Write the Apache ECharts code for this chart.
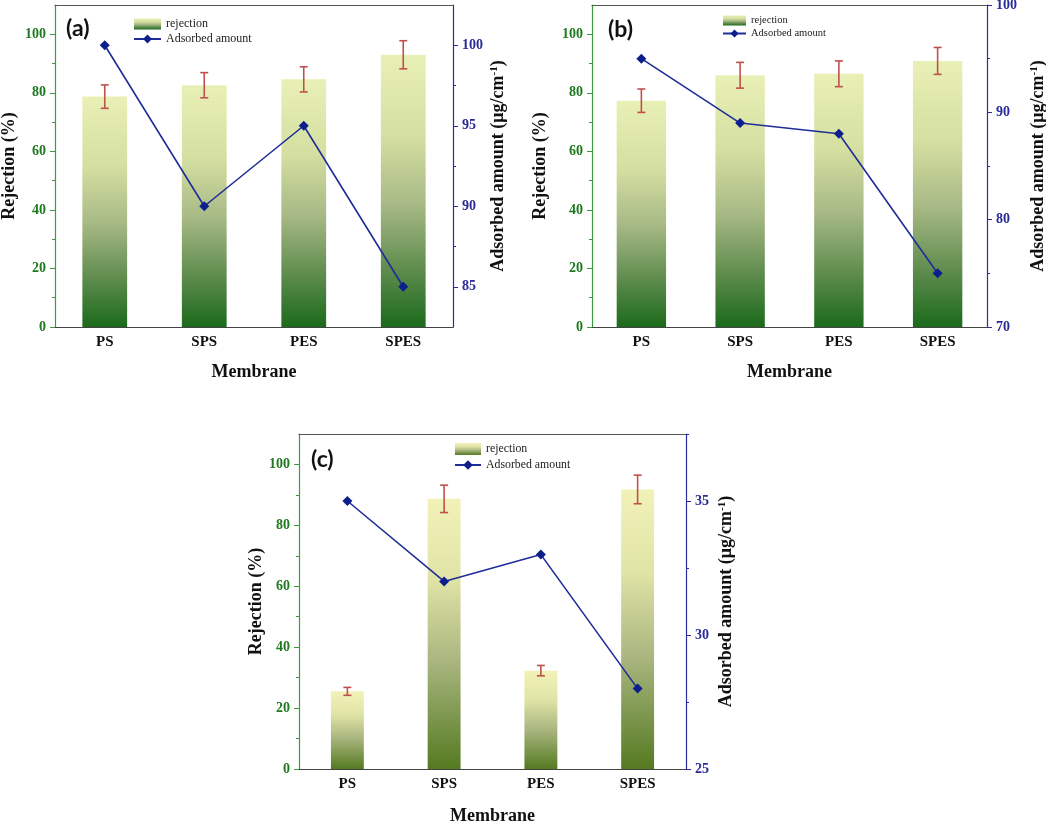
<!DOCTYPE html>
<html><head><meta charset="utf-8">
<script src="https://cdn.jsdelivr.net/npm/echarts@6/dist/echarts.min.js"></script>
<style>html,body{margin:0;padding:0;background:#fff}#c{width:1046px;height:823px}</style>
</head><body><div id="c"></div>
<script>
const categories = ['PS', 'SPS', 'PES', 'SPES'];

const rejectionA = [78.7, 82.6, 84.6, 93.0];
const errorA = [4.0, 4.3, 4.3, 4.8];
const adsorbedA = [100, 90, 95, 85];

const rejectionB = [77.3, 86.0, 86.5, 90.9];
const errorB = [4.0, 4.4, 4.4, 4.6];
const adsorbedB = [95, 89, 88, 75];

const rejectionC = [25.5, 88.7, 32.3, 91.8];
const errorC = [1.3, 4.5, 1.7, 4.7];
const adsorbedC = [35, 32, 33, 28];

const leftTicks = [0, 20, 40, 60, 80, 100];
const leftMinorTicks = [10, 30, 50, 70, 90];
const rightTicksA = [85, 90, 95, 100];
const rightMinorA = [87.5, 92.5, 97.5];
const rightTicksB = [70, 80, 90, 100];
const rightMinorB = [75, 85, 95];
const rightTicksC = [25, 30, 35];
const rightMinorC = [27.5, 32.5, 37.5];

const SERIF = '"Liberation Serif", "Times New Roman", serif';

function grad(stops) {
  return new echarts.graphic.LinearGradient(0, 0, 0, 1, stops.map(s => ({offset: s[0], color: s[1]})));
}
const gradAB = () => grad([[0, '#e9f0b6'], [0.3, '#d5dfa1'], [0.55, '#a7b985'], [0.8, '#5b8a4b'], [1, '#1b6a1b']]);
const gradC = () => grad([[0, '#f2f2b8'], [0.3, '#e0e3a6'], [0.6, '#a9b67f'], [1, '#557a21']]);

const panels = [
  {tag: '(a)', rej: rejectionA, err: errorA, ads: adsorbedA, rMin: 82.5, rMax: 102.5, rTicks: rightTicksA, rMinor: rightMinorA,
   grid: {left: 55, top: 5, width: 398, height: 322}, barWidth: '45%', colors: gradAB,
   lNameGap: 37, rNameGap: 36, xNameGap: 36, title: {left: 61, top: 12},
   legend: {left: 133, top: 18, fs: 12, gap: 3, w: 27, h: 11}},
  {tag: '(b)', rej: rejectionB, err: errorB, ads: adsorbedB, rMin: 70, rMax: 100, rTicks: rightTicksB, rMinor: rightMinorB,
   grid: {left: 592, top: 5, width: 395, height: 322}, barWidth: '50%', colors: gradAB,
   lNameGap: 43, rNameGap: 42, xNameGap: 36, title: {left: 603, top: 13},
   legend: {left: 722, top: 15, fs: 10.5, gap: 2, w: 23, h: 10}},
  {tag: '(c)', rej: rejectionC, err: errorC, ads: adsorbedC, rMin: 25, rMax: 37.5, rTicks: rightTicksC, rMinor: rightMinorC,
   grid: {left: 299, top: 434, width: 387, height: 335}, barWidth: '34%', colors: gradC,
   lNameGap: 33, rNameGap: 31, xNameGap: 38, title: {left: 306, top: 443},
   legend: {left: 454, top: 443, fs: 11.8, gap: 4, w: 26, h: 12}}
];

const grids = [], xAxes = [], yAxes = [], series = [], legends = [], titles = [];

panels.forEach((p, gi) => {
  grids.push(Object.assign({outerBoundsMode: 'none', containLabel: false}, p.grid));
  const xMain = xAxes.length;
  xAxes.push({
    type: 'category', gridIndex: gi, position: 'bottom', data: categories,
    name: 'Membrane', nameLocation: 'middle', nameGap: p.xNameGap,
    nameTextStyle: {fontFamily: SERIF, fontWeight: 'bold', fontSize: 18, color: '#111'},
    axisLine: {lineStyle: {color: '#444', width: 1.2}},
    axisTick: {alignWithLabel: true, length: 5, lineStyle: {color: '#444'}},
    axisLabel: {fontFamily: SERIF, fontWeight: 'bold', fontSize: 15, color: '#111', margin: 8},
    splitLine: {show: false}
  });
  xAxes.push({
    type: 'category', gridIndex: gi, position: 'bottom', data: categories,
    axisLine: {show: false}, axisLabel: {show: false},
    axisTick: {length: 3, lineStyle: {color: '#444'}}, splitLine: {show: false}
  });
  xAxes.push({
    type: 'category', gridIndex: gi, position: 'top', data: categories,
    axisLine: {lineStyle: {color: '#555', width: 1.2}}, axisLabel: {show: false},
    axisTick: {alignWithLabel: true, inside: true, length: 4, lineStyle: {color: '#444'}}, splitLine: {show: false}
  });
  const yLeft = yAxes.length;
  yAxes.push({
    type: 'value', gridIndex: gi, position: 'left', min: 0, max: 110,
    name: 'Rejection (%)', nameLocation: 'middle', nameGap: p.lNameGap, nameRotate: 90,
    nameTextStyle: {fontFamily: SERIF, fontWeight: 'bold', fontSize: 18, color: '#111'},
    axisLine: {show: true, lineStyle: {color: '#3c9a3c', width: 1.2}},
    axisTick: {show: true, length: 5, customValues: leftTicks, lineStyle: {color: '#3c9a3c'}},
    axisLabel: {customValues: leftTicks, fontFamily: SERIF, fontWeight: 'bold', fontSize: 14, color: '#1f7a1f', margin: 9},
    splitLine: {show: false}
  });
  yAxes.push({
    type: 'value', gridIndex: gi, position: 'left', min: 0, max: 110,
    axisLine: {show: false}, axisLabel: {show: false},
    axisTick: {show: true, length: 3, customValues: leftMinorTicks, lineStyle: {color: '#3c9a3c'}},
    splitLine: {show: false}
  });
  const yRight = yAxes.length;
  yAxes.push({
    type: 'value', gridIndex: gi, position: 'right', min: p.rMin, max: p.rMax,
    name: 'Adsorbed amount (μg/cm{sup|-1})', nameLocation: 'middle', nameGap: p.rNameGap, nameRotate: 90,
    nameTextStyle: {fontFamily: SERIF, fontWeight: 'bold', fontSize: 18, color: '#111',
      rich: {sup: {fontFamily: SERIF, fontWeight: 'bold', fontSize: 11, color: '#111', verticalAlign: 'top'}}},
    axisLine: {show: true, lineStyle: {color: '#2c2ca0', width: 1.2}},
    axisTick: {show: true, length: 5, customValues: p.rTicks, lineStyle: {color: '#2c2ca0'}},
    axisLabel: {customValues: p.rTicks, fontFamily: SERIF, fontWeight: 'bold', fontSize: 14, color: '#2a2a9a', margin: 9},
    splitLine: {show: false}
  });
  yAxes.push({
    type: 'value', gridIndex: gi, position: 'right', min: p.rMin, max: p.rMax,
    axisLine: {show: false}, axisLabel: {show: false},
    axisTick: {show: true, length: 3, customValues: p.rMinor, lineStyle: {color: '#2c2ca0'}},
    splitLine: {show: false}
  });

  series.push({
    type: 'bar', name: 'rejection', xAxisIndex: xMain, yAxisIndex: yLeft,
    data: p.rej, barWidth: p.barWidth, itemStyle: {color: p.colors()}, z: 2
  });
  series.push({
    type: 'custom', name: 'error', xAxisIndex: xMain, yAxisIndex: yLeft, z: 3,
    data: p.rej.map((r, i) => [i, r - p.err[i], r + p.err[i]]),
    encode: {x: 0, y: [1, 2]},
    renderItem: function (params, api) {
      const hi = api.coord([api.value(0), api.value(2)]);
      const lo = api.coord([api.value(0), api.value(1)]);
      const w = 4;
      const st = {stroke: '#c0504d', lineWidth: 1.6};
      return {type: 'group', children: [
        {type: 'line', shape: {x1: hi[0], y1: hi[1], x2: lo[0], y2: lo[1]}, style: st},
        {type: 'line', shape: {x1: hi[0] - w, y1: hi[1], x2: hi[0] + w, y2: hi[1]}, style: st},
        {type: 'line', shape: {x1: lo[0] - w, y1: lo[1], x2: lo[0] + w, y2: lo[1]}, style: st}
      ]};
    }
  });
  series.push({
    type: 'line', name: 'Adsorbed amount', xAxisIndex: xMain, yAxisIndex: yRight,
    data: p.ads, symbol: 'diamond', symbolSize: 10, z: 4,
    lineStyle: {color: '#1f2d98', width: 1.6},
    itemStyle: {color: '#0d1f8c'}
  });

  titles.push({text: p.tag, left: p.title.left, top: p.title.top,
    textStyle: {fontFamily: 'Lato, "Open Sans", sans-serif', fontWeight: 'bold', fontSize: 23, color: '#111'}});
  legends.push({
    left: p.legend.left, top: p.legend.top, orient: 'vertical', itemWidth: p.legend.w, itemHeight: p.legend.h,
    itemGap: p.legend.gap, selectedMode: false, padding: 0,
    textStyle: {fontFamily: SERIF, fontSize: p.legend.fs, color: '#222'},
    data: [{name: 'rejection', icon: 'rect', itemStyle: {color: p.colors()}}, {name: 'Adsorbed amount'}]
  });
});

const chart = echarts.init(document.getElementById('c'), null, {renderer: 'canvas'});
chart.setOption({
  animation: false,
  backgroundColor: '#fff',
  title: titles,
  legend: legends,
  grid: grids,
  xAxis: xAxes,
  yAxis: yAxes,
  series: series
});
</script>
</body></html>
